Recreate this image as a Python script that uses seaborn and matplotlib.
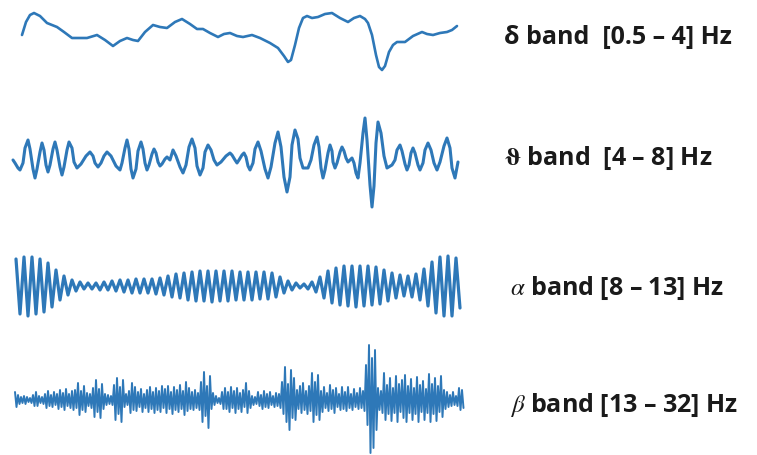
import numpy as np
import pandas as pd
import matplotlib
matplotlib.use("Agg")
import matplotlib.pyplot as plt
import seaborn as sns

sns.set_theme(style="white")
plt.rcParams["font.family"] = ["Open Sans", "DejaVu Sans"]
plt.rcParams["mathtext.fontset"] = "stix"

# ---------------- data ----------------
# delta band: time samples and amplitude
delta_t = [22, 26, 30, 34, 40, 47, 57, 64, 72, 80, 87, 97, 105, 113, 120, 127, 133, 138,
           145, 153, 160, 167, 175, 182, 190, 197, 203, 210, 218, 224, 230, 237, 243, 252,
           260, 270, 278, 284, 288, 291, 295, 299, 303, 307, 312, 318, 325, 332, 340, 348,
           354, 360, 365, 368, 372, 376, 379, 382, 385, 389, 393, 397, 405, 413, 422, 427,
           433, 440, 447, 452, 457]
delta_v = [5, 18, 25, 27, 24, 17, 13, 8, 2, 2, 2, 5, 0, -6, -1, 2, 0, -1,
           8, 15, 13, 12, 18, 21, 16, 11, 11, 7, 3, 6, 7, 4, 3, 5,
           2, -3, -8, -16, -22, -20, -5, 12, 22, 24, 22, 23, 26, 27, 22, 18,
           22, 24, 21, 17, 5, -15, -27, -30, -26, -12, -5, -2, -2, 4, 8, 6,
           5, 7, 8, 10, 14]

# theta band: readings along the curve (time, amplitude)
theta_t = [13, 15, 18, 20, 23, 25, 28, 30, 33, 35, 37, 40, 42, 44, 46, 48, 50, 53, 55, 57,
           60, 62, 64, 67, 69, 72, 74, 77, 81, 86, 90, 93, 95, 98, 101, 104, 107, 111, 116, 120,
           122, 125, 127, 129, 131, 133, 136, 138, 141, 143, 145, 147, 149, 152, 154, 156, 158, 160, 162, 165,
           167, 170, 173, 176, 180, 183, 186, 189, 192, 195, 197, 200, 203, 205, 208, 211, 214, 217, 221, 226,
           230, 232, 235, 237, 239, 242, 244, 246, 248, 250, 253, 255, 258, 261, 265, 268, 271, 275, 278, 281,
           284, 287, 290, 292, 295, 298, 300, 303, 308, 311, 314, 317, 319, 321, 323, 325, 328, 330, 332, 333,
           335, 337, 340, 342, 344, 346, 348, 352, 354, 356, 358, 360, 363, 365, 367, 370, 372, 374, 376, 378,
           381, 384, 387, 392, 395, 397, 400, 402, 405, 407, 409, 411, 413, 415, 418, 420, 423, 425, 428, 431,
           434, 437, 440, 444, 447, 450, 452, 455, 458]
theta_v = [0, -3, -8, -10, -3, 12, 20, 11, -9, -18, -9, 8, 17, 10, -5, -12, -5, 11, 18, 10,
           -7, -15, -7, 10, 18, 12, -2, -8, -4, 4, 8, 4, -3, -7, -3, 4, 8, 4, -6, -10,
           -3, 12, 20, 11, -9, -18, -9, 9, 18, 11, -3, -10, -5, 6, 11, 7, -2, -6, -4, 1,
           3, 0, 10, 4, -7, -13, -5, 13, 21, 12, -6, -15, -8, 8, 15, 10, 0, -5, -2, 4,
           7, 5, 0, -3, 0, 5, 7, 3, -6, -10, -3, 11, 18, 9, -9, -18, -7, 17, 28, 13,
           -17, -32, -17, 15, 30, 21, 2, -8, -8, 0, 15, 23, 13, -8, -18, -10, 7, 15, 9, -2,
           -8, -3, 8, 13, 9, 2, -2, 2, -3, -13, -18, -3, 27, 42, 20, -25, -47, -26, 17, 38,
           27, 4, -8, -5, 0, 10, 15, 9, -4, -10, -5, 7, 12, 7, -5, -10, -3, 10, 17, 10,
           -3, -10, -2, 14, 22, 12, -8, -18, -2]

# alpha band: upper and lower excursion of each cycle
alpha_peaks = [27, 29, 29, 27, 23, 16, 10, 6, 4, 3, 3, 4, 5, 6, 6, 7, 7, 7, 8, 10,
               12, 13, 14, 15, 15, 15, 15, 15, 14, 14, 14, 14, 13, 9, 5, 3, 2, 4, 9, 15,
               18, 20, 20, 20, 20, 19, 16, 13, 11, 10, 12, 17, 24, 29, 30, 28]
alpha_troughs = [28, 30, 28, 26, 21, 14, 9, 5, 3, 3, 4, 4, 5, 6, 7, 7, 7, 8, 9, 11,
                 12, 14, 15, 15, 16, 15, 15, 14, 14, 14, 13, 13, 11, 7, 4, 2, 3, 6, 12, 17,
                 19, 20, 21, 20, 19, 18, 15, 12, 10, 11, 14, 20, 27, 30, 30, 22]

# beta band: upper and lower excursion of each cycle
beta_peaks = [8, 5, 3, 4, 3, 2, 5, 8, 4, 3,
              6, 9, 5, 8, 6, 10, 7, 11, 6, 9,
              10, 17, 9, 14, 7, 6, 12, 20, 11, 16,
              6, 5, 4, 15, 22, 13, 20, 6, 9, 17,
              13, 8, 11, 6, 10, 13, 8, 12, 9, 14,
              11, 14, 8, 13, 10, 15, 9, 18, 12, 8,
              10, 7, 18, 28, 14, 24, 7, 4, 2, 8,
              12, 8, 13, 9, 12, 7, 10, 17, 9, 4,
              3, 8, 5, 9, 6, 8, 4, 7, 6, 18,
              33, 16, 30, 22, 10, 14, 17, 9, 14, 27,
              18, 25, 9, 13, 7, 15, 10, 12, 6, 13,
              8, 13, 6, 11, 7, 12, 9, 35, 55, 42,
              50, 12, 9, 27, 15, 22, 12, 24, 16, 20,
              25, 14, 21, 12, 23, 15, 19, 11, 26, 16,
              22, 14, 24, 10, 8, 5, 8, 4, 12, 10]
beta_troughs = [7, 4, 3, 4, 2, 3, 6, 6, 3, 4,
                8, 6, 7, 5, 9, 7, 10, 6, 8, 10,
                8, 15, 10, 12, 6, 8, 17, 12, 18, 9,
                5, 4, 5, 20, 14, 22, 7, 5, 13, 10,
                11, 7, 12, 8, 12, 9, 13, 10, 12, 8,
                13, 9, 14, 10, 12, 9, 15, 11, 9, 10,
                8, 10, 22, 16, 28, 9, 5, 3, 4, 9,
                9, 12, 8, 13, 9, 12, 7, 13, 8, 5,
                4, 6, 9, 7, 8, 5, 7, 6, 8, 14,
                22, 30, 18, 20, 9, 13, 10, 14, 11, 22,
                15, 20, 12, 8, 11, 9, 13, 7, 10, 9,
                11, 8, 10, 7, 9, 8, 11, 25, 53, 48,
                30, 10, 13, 20, 14, 21, 13, 22, 12, 18,
                22, 13, 20, 14, 22, 12, 20, 13, 22, 14,
                21, 12, 17, 9, 7, 6, 5, 6, 10, 8]

band_labels = [r"δ band  [0.5 – 4] Hz",
               r"$\boldsymbol{\vartheta}$ band  [4 – 8] Hz",
               r"$\alpha$ band [8 – 13] Hz",
               r"$\beta$ band [13 – 32] Hz"]

# ---------------- assemble series ----------------
def interleave(up, down):
    out = []
    for u, d in zip(up, down):
        out.append(u)
        out.append(-d)
    return out

alpha_v = interleave(alpha_peaks, alpha_troughs)
alpha_t = np.linspace(16, 16 + 4 * (len(alpha_v) - 1), len(alpha_v))
beta_v = interleave(beta_peaks, beta_troughs)
beta_t = np.linspace(15, 15 + 1.5 * (len(beta_v) - 1), len(beta_v))

series = [
    pd.DataFrame({"t": delta_t, "v": delta_v}),
    pd.DataFrame({"t": theta_t, "v": theta_v}),
    pd.DataFrame({"t": alpha_t, "v": alpha_v}),
    pd.DataFrame({"t": beta_t, "v": beta_v}),
]

W, H = 757, 455
fig = plt.figure(figsize=(W / 100, H / 100), dpi=100)
fig.patch.set_facecolor("white")

centers = [40, 160, 286, 400]
widths = [1.9, 2.2, 2.3, 1.4]
label_x = [504, 504, 510, 510]
label_y = [37, 158, 288, 405]
color = "#2e78b8"
half = 60

for df, cy, lw, lab, lx, ly in zip(series, centers, widths, band_labels, label_x, label_y):
    ax = fig.add_axes([0, (H - cy - half) / H, 470 / W, 2 * half / H])
    sns.lineplot(data=df, x="t", y="v", ax=ax, color=color, linewidth=lw,
                 estimator=None, sort=False)
    ax.lines[-1].set_solid_joinstyle("round")
    ax.set_xlim(0, 470)
    ax.set_ylim(-half, half)
    ax.axis("off")
    fig.text(lx / W, 1 - ly / H, lab, fontsize=18, fontweight="bold",
             color="#1a1a1a", va="center", ha="left")

fig.savefig("out.png", dpi=100, facecolor="white")
